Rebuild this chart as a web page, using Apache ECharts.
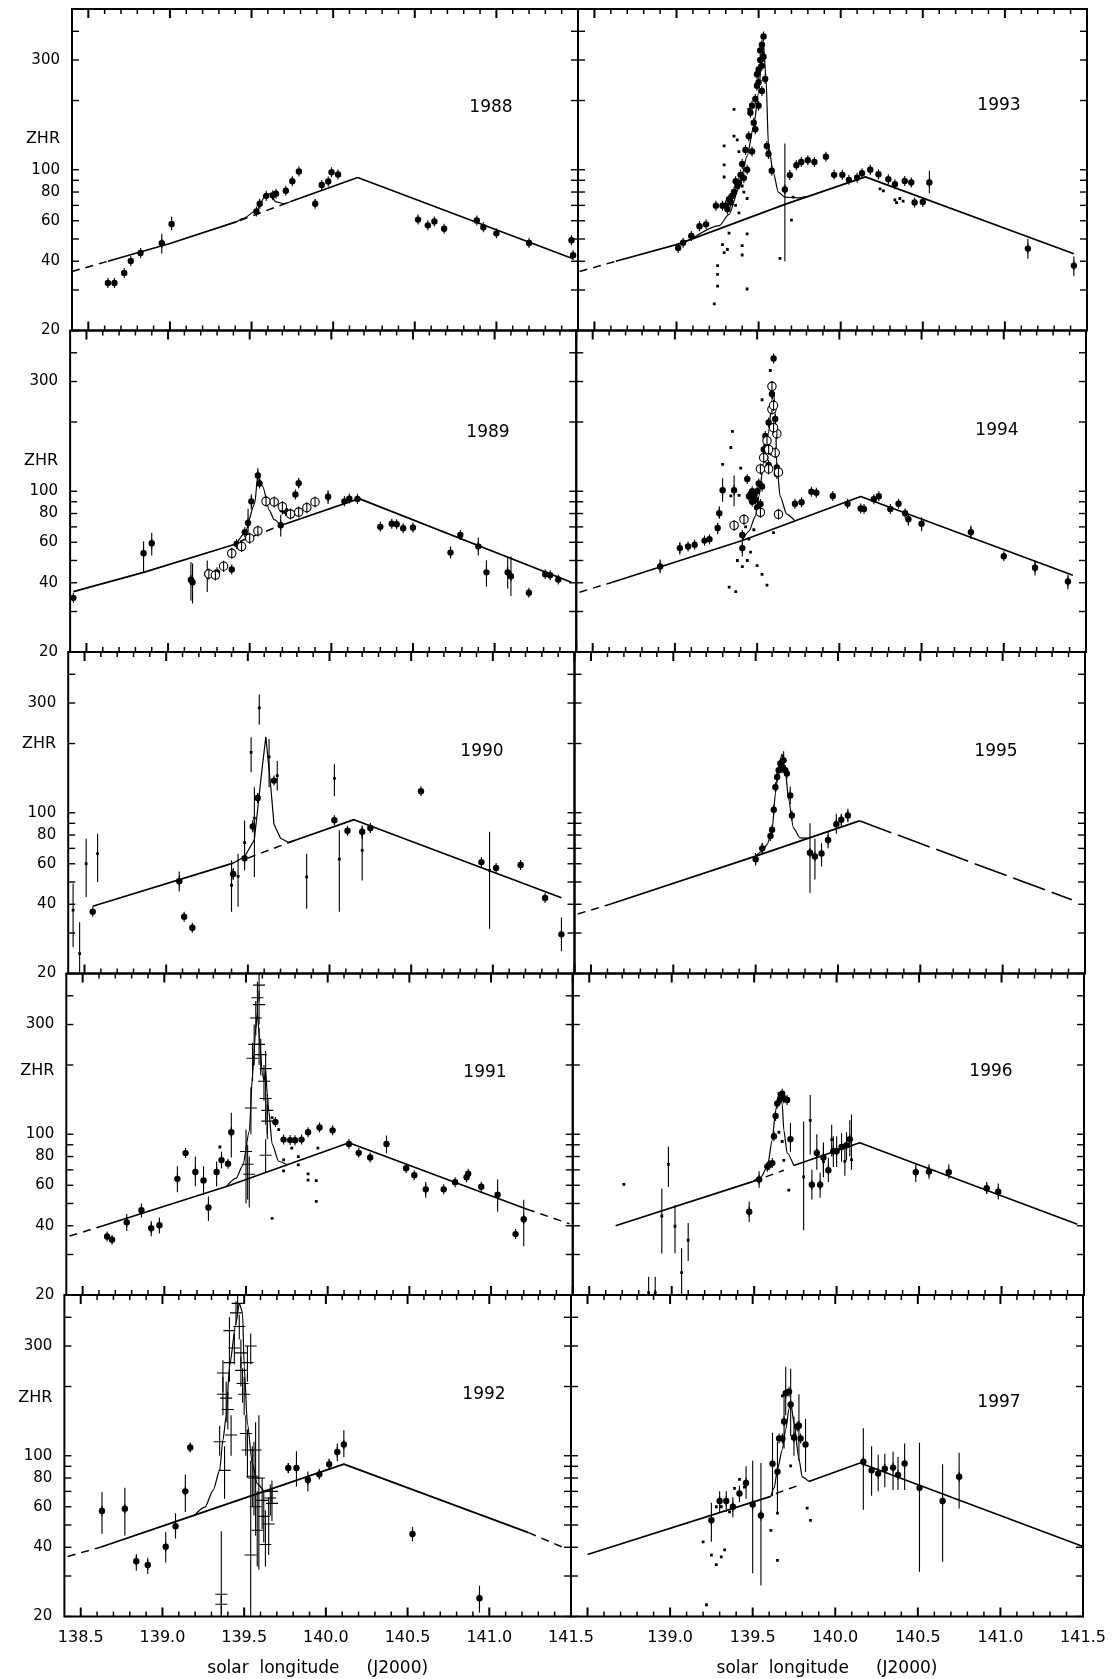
<!DOCTYPE html>
<html><head><meta charset="utf-8">
<script src="https://cdn.jsdelivr.net/npm/echarts@6/dist/echarts.min.js"></script>
<style>html,body{margin:0;padding:0;background:#fff}#c{width:1115px;height:1679px}</style>
</head><body><div id="c"></div><script>
// ---------- axis ticks / labels ----------
const XMIN = 138.4, XMAX = 141.5;
const yTickVals = [20, 30, 40, 50, 60, 70, 80, 90, 100, 200, 300, 400];
const yLabelVals = [20, 40, 60, 80, 100, 300];
const xMajorVals = [138.5, 139.0, 139.5, 140.0, 140.5, 141.0, 141.5];
const xMinorVals = [138.6, 138.7, 138.8, 138.9, 139.1, 139.2, 139.3, 139.4, 139.6, 139.7, 139.8, 139.9,
  140.1, 140.2, 140.3, 140.4, 140.6, 140.7, 140.8, 140.9, 141.1, 141.2, 141.3, 141.4];
const xLabelsLeft = [138.5, 139.0, 139.5, 140.0, 140.5, 141.0, 141.5];
const xLabelsRight = [139.0, 139.5, 140.0, 140.5, 141.0, 141.5];

// ---------- 1988 ----------
const solid1988 = [[[138.62,40],[139.0,47.8],[139.41,59.5]], [[139.74,72.8],[140.15,92.6],[141.47,41]]];
const dash1988 = [[[138.4,36.1],[138.62,40]], [[139.43,60.2],[139.74,72.8]]];
const peak1988 = [[139.41,59.5],[139.45,61.5],[139.53,66.5],[139.58,76],[139.61,78.5],[139.65,72.5],[139.7,71.2],[139.74,72.8]];
const dots1988 = [[138.62,32.2],[138.66,32.2],[138.72,35.6],[138.76,40.1],[138.82,43.5,41.5,45.5],[138.95,47.9,43.1,52.7],[139.01,58.1,54.5,62.4],[139.53,65.9],[139.55,71.2],[139.59,77],[139.63,77.5],[139.65,78.7],[139.71,81],[139.75,89.1],[139.79,98.3],[139.89,71.2,68.5,74],[139.93,85.9],[139.97,89],[139.99,97.6],[140.03,95.3],[140.52,60.7],[140.58,57.3],[140.62,59.6],[140.68,55.4],[140.88,60.2],[140.92,56.3],[141.0,52.9],[141.2,48],[141.46,49.4],[141.47,42.5]];

// ---------- 1989 ----------
const solid1989 = [[[138.42,36.6],[138.85,44.4],[139.42,59.1]], [[139.69,71],[140.17,92.9],[141.47,40.2]]];
const dash1989 = [[[139.44,60.5],[139.69,71]]];
const peak1989 = [[139.42,59.1],[139.47,65.7],[139.53,88.1],[139.55,117],[139.58,104.8],[139.62,82.6],[139.65,75.3],[139.69,71.3]];
const dots1989 = [[138.42,34.4],[138.85,53.8,44.4,60.4],[138.9,59.4,52.5,66],[139.14,41.2,33.4,49.2],[139.15,40.2,32.5,48.5],[139.24,43.7,36.5,50],[139.3,44.4],[139.34,47.1],[139.39,45.7],[139.42,59],[139.47,66.3],[139.49,72.8,62.5,84],[139.51,90.4,83.5,97],[139.55,117,110,126],[139.56,108],[139.69,71.1,63.5,79],[139.7,83.4],[139.72,82],[139.78,96.9],[139.8,108.3,103,114],[139.98,94.7,88,101],[140.08,90.4],[140.11,92.9],[140.16,92.5],[140.3,70],[140.37,72.3],[140.4,71.9],[140.44,69.1],[140.5,69.5,67,72],[140.73,54.1,51,57.5],[140.79,64.5],[140.9,57.6,52.5,63],[140.95,44.4,38.5,50],[141.08,44.4,37.8,52],[141.1,42.7,35,52],[141.21,36.2],[141.31,43.6],[141.34,43.1],[141.39,41.3]];
const open1989 = [[139.25,43.7],[139.29,43.2],[139.34,47.2],[139.39,53.7],[139.45,57.5],[139.5,62.5],[139.55,67.2],[139.6,90.4],[139.65,89.9],[139.7,85.7],[139.75,79.6],[139.8,81.2],[139.85,84.8],[139.9,89.9]];

// ---------- 1990 ----------
const solid1990 = [[[138.55,39.2],[139.41,60.4]], [[139.75,74.2],[140.15,93.3],[141.42,42.7]]];
const dash1990 = [[[139.5,63.5],[139.79,76]]];
const peak1990 = [[139.41,60.4],[139.48,64.4],[139.54,76.5],[139.58,140],[139.61,214],[139.64,130],[139.66,89.2],[139.7,77.5],[139.75,74.2]];
const dots1990 = [[138.55,37.1],[139.08,50.4,45.5,55.5],[139.11,35.3],[139.16,31.6],[139.41,54.2,51,57.5],[139.48,63.4,56.3,92.5],[139.53,87.1,82,93],[139.56,116,110,122],[139.66,138],[140.03,92.7],[140.11,83.5],[140.2,82.7,77,88],[140.25,85.9,82,89],[140.56,124],[140.93,61],[141.02,57.5],[141.17,59.3],[141.32,42.6],[141.42,29.6,25,35]];
const small1990 = [[138.43,37.7,26.1,49.2],[138.47,24.4,20,33.4],[138.51,60,43,77],[138.58,66.4,50,81],[139.4,48.4,37.1,62.2],[139.44,52.9,39,66.3],[139.48,74.2],[139.54,94.7,52.6,129],[139.52,183,150,213],[139.57,286,242,327],[139.63,175,129,209],[139.68,145,125,168],[139.86,52.6,38.2,66.3],[140.03,141,118,163],[140.06,62.8,37.1,83.9],[140.2,68.6,50.7,81],[140.98,56.2,31.3,82.7]];

// ---------- 1991 ----------
const solid1991 = [[[138.62,39.9],[139.38,59.3],[140.13,91.9],[141.22,47.2]]];
const dash1991 = [[[138.42,36.1],[138.62,39.9]], [[141.22,47.2],[141.48,40.8]]];
const peak1991 = [[139.38,59.3],[139.44,64.5],[139.48,73.1],[139.52,103],[139.54,182],[139.56,289],[139.57,340],[139.58,272],[139.6,185],[139.61,170],[139.62,190],[139.63,150],[139.64,125],[139.66,90.6],[139.7,76.3],[139.75,73.7]];
const dots1991 = [[138.65,35.9],[138.68,34.8],[138.77,41.4,38,45],[138.86,46.7,43.5,50],[138.92,39,36,42],[138.97,40.2,37,43.5],[139.08,64,55.9,72.6],[139.13,82.8],[139.19,68.6,59.4,80],[139.24,63,54.6,72.6],[139.27,48,42,53.6],[139.32,68.6,59.4,76.2],[139.35,77.2,71,84],[139.39,74.5],[139.41,102,79.3,124],[139.68,113],[139.73,94.8],[139.77,94.3],[139.8,94.1],[139.84,94.8],[139.88,102],[139.95,107],[140.03,104],[140.13,90.8],[140.19,83],[140.26,79.3],[140.36,90.8,82.6,98.7],[140.48,71.2],[140.53,66.4],[140.6,57.6,53,62],[140.71,57.6],[140.78,61.9],[140.85,65],[140.86,67.3],[140.94,59.1],[141.04,54.6,46,63.5],[141.15,36.8],[141.2,42.7,32.6,51.9]];
const small1991 = [[139.34,88],[139.66,43.1],[139.73,77.3],[139.73,69.3],[139.7,104.7],[139.66,118],[139.78,87],[139.82,80],[139.82,73.6],[139.88,67.3],[139.88,63.2],[139.93,62.8],[139.93,51.1],[139.94,87.1]];
const cross1991 = [[139.5,84.2,50,105],[139.51,74,52,90],[139.52,67,48,80],[139.53,130,100,160],[139.54,214,170,250],[139.55,246,200,300],[139.56,320,270,380],[139.57,392,330,460],[139.58,445,380,500],[139.58,366,300,420],[139.58,246,200,290],[139.59,222,180,260],[139.61,170,140,200],[139.62,193,160,230],[139.62,143,110,170],[139.63,127,100,150],[139.63,114,95,135],[139.62,81,68,95]];

// ---------- 1992 ----------
const solid1992 = [[[138.62,40],[139.08,51.7],[140.11,92],[141.24,46.3]]];
const dash1992 = [[[138.42,36.5],[138.62,40]], [[141.24,46.3],[141.45,40]]];
const peak1992 = [[139.19,54.6],[139.26,59.8],[139.31,70.7],[139.35,86.4],[139.37,117],[139.39,148],[139.41,245],[139.45,378],[139.47,460],[139.49,420],[139.5,245],[139.52,138],[139.55,92.5],[139.58,75.6],[139.63,69.6],[139.66,71]];
const dots1992 = [[138.63,57.5,45.8,69.6],[138.77,58.8,45,72.6],[138.84,34.8,31.6,37.4],[138.91,33.5,30.6,36],[139.02,40.2,34.3,46.6],[139.08,49.4,43.7,56.3],[139.14,70,56.9,82.8],[139.17,108.6,104,113],[139.77,88.5,84,93],[139.82,88.5,73.5,104.6],[139.89,78.4,69.9,85.5],[139.96,83,79,87],[140.02,91.9,87,97],[140.07,103.9,94.6,113],[140.11,111.9,98.8,129],[140.53,45.7,42.5,49],[140.94,24,20.8,27.2]];
const cross1992 = [[139.35,115,100,135],[139.36,25,20,47],[139.36,22.6,20,25],[139.37,185,150,220],[139.37,229,190,260],[139.38,86.4,65,110],[139.39,178,140,210],[139.4,159,130,190],[139.41,254,210,300],[139.41,350,300,400],[139.42,123,100,150],[139.44,294,250,340],[139.45,418,370,470],[139.46,460,420,500],[139.47,365,320,410],[139.48,280,240,320],[139.48,235,200,270],[139.49,206,170,240],[139.5,185,150,220],[139.51,125,100,150],[139.52,254,210,300],[139.52,106,80,130],[139.54,300,250,340],[139.54,37,20,95],[139.55,81.4,60,110],[139.56,80,55,115],[139.57,106,80,140],[139.57,60,45,80],[139.58,47.4,33,70],[139.59,80,32,150],[139.61,64,48,80],[139.62,54.5,42,70],[139.63,41.1,33,58],[139.65,50.5,37,66],[139.66,65.5,55,75],[139.67,62.1,52,72],[139.67,70,62,78]];

// ---------- 1993 ----------
const solid1993 = [[[138.63,40],[139.01,47.5],[139.66,70.7],[140.15,93.1],[141.42,43.1]]];
const dash1993 = [[[138.41,36.1],[138.63,40]]];
const peak1993 = [[139.1,50.5],[139.26,57.1],[139.32,64],[139.38,82.9],[139.43,114.8],[139.47,155],[139.5,216],[139.52,312],[139.53,350],[139.545,250],[139.56,127],[139.59,97],[139.62,80],[139.66,76],[139.74,75.5],[139.79,76.4]];
const dots1993 = [[139.01,45.7],[139.04,48.2],[139.09,51.5],[139.14,56.8],[139.18,57.9],[139.24,69.8],[139.28,69.8],[139.31,67.4],[139.32,74.5],[139.34,77.1],[139.36,89.2],[139.38,87.9],[139.4,106],[139.42,122],[139.44,140],[139.45,177],[139.48,203],[139.49,232],[139.5,273],[139.51,300],[139.52,283],[139.53,380],[139.51,330],[139.54,248],[139.55,127],[139.56,117],[139.58,99],[139.46,190],[139.47,160],[139.49,260],[139.5,240],[139.52,350],[139.53,310],[139.52,220],[139.5,190],[139.48,150],[139.46,120],[139.43,100],[139.41,92],[139.39,95],[139.37,85],[139.35,80],[139.33,72],[139.3,70],[139.66,82,40,130],[139.69,94.8],[139.73,104.6],[139.76,108],[139.8,110],[139.84,108],[139.91,114],[139.96,95],[140.01,95],[140.05,90.4],[140.1,92.3],[140.13,96.5],[140.18,100],[140.23,95.6],[140.29,91],[140.33,86.5],[140.39,89.4],[140.43,88],[140.45,72.1],[140.5,72.4],[140.54,88,79,99],[141.14,45.4,41,50],[141.42,38.3,34.5,42]];
const small1993 = [[139.29,127],[139.29,105],[139.29,93],[139.35,140],[139.37,135],[139.38,120],[139.35,183],[139.28,47.3],[139.29,43.6],[139.31,45],[139.32,53],[139.25,38.3],[139.25,35.1],[139.25,31.2],[139.23,26.1],[139.4,46.8],[139.4,42.6],[139.43,52.6],[139.43,30.3],[139.63,41.2],[139.7,60.4],[139.44,183],[139.47,190],[139.5,330],[139.4,85],[139.41,80],[139.43,75],[139.38,65],[139.36,70],[140.24,82.6],[140.26,81],[140.33,74],[140.34,72],[140.38,73],[140.36,75],[139.71,76]];

// ---------- 1994 ----------
const solid1994 = [[[138.62,40.2],[139.41,61.1],[140.13,94.9],[141.42,43.1]]];
const dash1994 = [[[138.42,36.4],[138.62,40.2]]];
const peak1994 = [[139.41,61.1],[139.45,67],[139.49,78],[139.51,95],[139.54,133],[139.57,180],[139.59,250],[139.6,270],[139.61,220],[139.62,129],[139.64,95],[139.68,79.5],[139.73,74.3]];
const dots1994 = [[138.91,47.1,44,50.5],[139.03,56.6,53,60],[139.08,57.5],[139.12,58.6],[139.18,61],[139.21,61.9],[139.26,69.2,65,73],[139.27,80.3,76,86],[139.29,101,90,114],[139.36,101,86,117],[139.41,64.5],[139.41,56.6,52,61],[139.44,113],[139.46,97.4],[139.48,95],[139.5,100],[139.51,108],[139.53,125],[139.54,152],[139.55,174],[139.57,199],[139.59,265],[139.6,378],[139.61,206],[139.62,127],[139.62,119],[139.45,95],[139.47,90],[139.49,92],[139.47,100],[139.5,85],[139.52,88],[139.53,105],[139.55,140],[139.56,160],[139.58,150],[139.57,130],[139.73,88.2],[139.77,89.6],[139.83,99.6],[139.86,98.6],[139.96,95.3],[140.05,88.2],[140.13,84.2],[140.15,83.8],[140.21,92.4],[140.24,95.1],[140.31,83.8],[140.36,88.2],[140.4,80.3],[140.42,75.5,71,80],[140.5,72.2,67,77],[140.8,66.4,62,71],[141.0,52.2],[141.19,46.5,43,50],[141.39,40.5,37.5,43.5]];
const open1994 = [[139.36,71],[139.42,75.4],[139.52,81],[139.63,79.4],[139.52,125],[139.57,125],[139.56,166],[139.61,147],[139.62,178],[139.6,189],[139.59,227],[139.6,236],[139.59,286],[139.63,121],[139.54,140],[139.57,152]];
const small1994 = [[139.35,182],[139.34,155],[139.29,131],[139.4,126],[139.58,335],[139.53,250],[139.38,50],[139.41,47],[139.44,50],[139.46,54.4],[139.5,47.5],[139.53,43.5],[139.56,39.1],[139.33,38.3],[139.37,36.6],[139.6,66.1],[139.34,95.5],[139.39,96],[139.43,70],[139.45,62],[139.48,68]];

// ---------- 1995 ----------
const solid1995 = [[[138.62,40.1],[139.5,64.8],[140.13,92.2]]];
const dash1995 = [[[138.42,36.3],[138.62,40.1]]];
const longDash1995 = [[[140.13,92.2],[141.42,41.9]]];
const peak1995 = [[139.5,64.8],[139.54,68],[139.57,72.8],[139.6,84.2],[139.62,121],[139.64,158],[139.66,180],[139.68,153],[139.7,114],[139.73,85.7],[139.77,77.8],[139.82,77.5]];
const dots1995 = [[139.5,62.8,59,67],[139.54,70,66,74],[139.59,79.3],[139.6,84.4],[139.61,103],[139.62,129],[139.63,143],[139.64,153],[139.65,164],[139.66,156],[139.67,169,155,185],[139.68,153],[139.69,148],[139.71,119,109,130],[139.72,97.4],[139.83,67,44.8,90],[139.86,64.5,51.2,77.1],[139.9,66.5,58.4,73.7],[139.94,76.2,70,83],[139.99,89.2,81,98.9],[140.02,93.2,87,99],[140.06,97.4,91,104]];

// ---------- 1996 ----------
const solid1996 = [[[138.66,40],[139.49,62.2]], [[139.74,73.1],[140.14,91.9],[141.46,40.6]]];
const dash1996 = [[[139.49,62.2],[139.68,69.7]]];
const peak1996 = [[139.49,62.2],[139.54,65],[139.58,72.3],[139.61,94.7],[139.63,127],[139.65,150],[139.67,136],[139.68,104],[139.7,82.9],[139.74,73.1]];
const dots1996 = [[139.47,46,41.5,51],[139.53,63.6,58.5,69],[139.58,72.3],[139.59,73.5],[139.61,74.9],[139.62,98],[139.63,120],[139.64,136],[139.66,143],[139.67,150],[139.68,143],[139.7,141],[139.72,95.2,84,112],[139.85,60.3,52,70],[139.88,82.9,70,100],[139.9,60.3,53,68],[139.92,79.2,68,92],[139.95,69.7,62,79],[139.98,84.3,72,98],[140.0,84.3,72,98],[140.03,88,76,101],[140.06,89.6,77,102],[140.08,95.1,80,115],[140.48,68.4,62,75],[140.56,68.8,64,74],[140.68,68.4,64,74],[140.91,58.3,55,62],[140.98,56.3,52,61]];
const small1996 = [[138.71,60.5],[138.94,44.1,30.3,58.1],[138.98,74,59,88.5],[139.02,39.8,30.3,49.2],[139.06,25,20,31.9],[139.1,34.6,28.1,41.1],[138.86,20.5,20,24],[138.9,20.5,20,24],[139.65,150],[139.65,102],[139.67,93],[139.68,77],[139.71,57.2],[139.84,115,81.7,148],[139.8,65.2,38.2,113.6],[139.97,94.7,80,110],[140.05,76.2,66,88],[140.09,77.6,70,122],[139.92,76,65,88]];

// ---------- 1997 ----------
const solid1997 = [[[138.5,37.2],[139.61,66.6]], [[139.84,77.3],[140.15,93],[141.5,40.3]]];
const dash1997 = [[[139.64,68.5],[139.8,75.3]]];
const peak1997 = [[139.61,66.6],[139.63,72.5],[139.65,87.2],[139.68,107],[139.7,130],[139.72,160],[139.73,171],[139.75,139],[139.78,96.9],[139.8,81],[139.84,77.3]];
const dots1997 = [[139.25,52.4,42.3,62.4],[139.3,63.6,57,70],[139.34,63.6,57,70],[139.38,60,54,66],[139.42,68.5,63,74],[139.46,76.1,65,90],[139.5,61.4,30.8,95.1],[139.55,55,27.3,93.1],[139.62,92.4,66.7,126],[139.65,85.3,57,115],[139.66,119],[139.68,119],[139.69,141,107.5,190],[139.7,187,150,244],[139.72,190],[139.73,167,122,239],[139.75,120,100,148],[139.77,134],[139.78,135,95,185],[139.79,119],[139.82,112,85,145],[140.17,94.3,58.2,131.6],[140.22,86.4,67,110],[140.26,83.8,70,101],[140.3,87.9,73,102],[140.35,88.8,71,104],[140.38,82.6,71,99],[140.42,92.5,71,113],[140.51,72.5,31.3,114],[140.65,63.6,34.6,91.9],[140.75,81,59,103]];
const small1997 = [[139.2,42.2],[139.25,37],[139.28,33.6],[139.31,36.3],[139.33,39],[139.22,22.5],[139.39,72.1],[139.42,78.9],[139.45,73],[139.61,47.4],[139.65,35.1],[139.65,56.3],[139.83,59.2],[139.85,52.4],[139.73,90.4],[139.68,182],[139.28,60],[139.31,60],[139.36,57]];

// ---------- panel layout ----------
const panels = [
  {year:'1988', col:0, row:0, solid:solid1988, dash:dash1988, peak:peak1988, dots:dots1988, zhr:136, lab:[491,108]},
  {year:'1989', col:0, row:1, solid:solid1989, dash:dash1989, peak:peak1989, dots:dots1989, open:open1989, zhr:136, lab:[488,433]},
  {year:'1990', col:0, row:2, solid:solid1990, dash:dash1990, peak:peak1990, dots:dots1990, small:small1990, zhr:199, lab:[482,752], sharp:true},
  {year:'1991', col:0, row:3, solid:solid1991, dash:dash1991, peak:peak1991, dots:dots1991, small:small1991, cross:cross1991, zhr:188, lab:[485,1073]},
  {year:'1992', col:0, row:4, solid:solid1992, dash:dash1992, peak:peak1992, dots:dots1992, cross:cross1992, zhr:179, lab:[484,1395]},
  {year:'1993', col:1, row:0, solid:solid1993, dash:dash1993, peak:peak1993, dots:dots1993, small:small1993, lab:[999,106]},
  {year:'1994', col:1, row:1, solid:solid1994, dash:dash1994, peak:peak1994, dots:dots1994, open:open1994, small:small1994, lab:[997,431]},
  {year:'1995', col:1, row:2, solid:solid1995, dash:dash1995, longDash:longDash1995, peak:peak1995, dots:dots1995, lab:[996,752]},
  {year:'1996', col:1, row:3, solid:solid1996, dash:dash1996, peak:peak1996, dots:dots1996, small:small1996, lab:[991,1072]},
  {year:'1997', col:1, row:4, solid:solid1997, dash:dash1997, peak:peak1997, dots:dots1997, small:small1997, lab:[999,1403]}
];

const ROW_TOP = 9, ROW_H = 321.5;
const YMIN = 20, YMAX = 500;
function gridRect(col, row) {
  const L = 72 - 1.9 * row, M = 578 - 1.75 * row, R = 1087 - 1 * row;
  return col === 0 ? {left: L, width: M - L} : {left: M, width: R - M};
}
const FONT = '"DejaVu Sans", "Liberation Sans", Arial, sans-serif';

function norm(d) { return [d[0], d[1], d[2] || 0, d[3] || 0]; }

function renderPts(kind) {
  return function (params, api) {
    const x = api.value(0), y = api.value(1), lo = api.value(2), hi = api.value(3);
    const p = api.coord([x, y]);
    const st = {stroke: '#000', lineWidth: 1.1};
    const ch = [];
    if (lo > 0 && hi > 0) {
      const a = api.coord([x, lo]), b = api.coord([x, hi]);
      ch.push({type: 'line', shape: {x1: p[0], y1: a[1], x2: p[0], y2: b[1]}, style: st});
    }
    if (kind === 'dot') {
      ch.push({type: 'line', shape: {x1: p[0], y1: p[1] - 5, x2: p[0], y2: p[1] + 5}, style: st});
      ch.push({type: 'circle', shape: {cx: p[0], cy: p[1], r: 3.2}, style: {fill: '#000'}});
    } else if (kind === 'open') {
      ch.push({type: 'circle', shape: {cx: p[0], cy: p[1], r: 4.2}, style: {fill: '#fff', stroke: '#000', lineWidth: 1.1}});
      ch.push({type: 'line', shape: {x1: p[0], y1: p[1] - 5.5, x2: p[0], y2: p[1] + 5.5}, style: st});
    } else if (kind === 'small') {
      ch.push({type: 'rect', shape: {x: p[0] - 1.4, y: p[1] - 1.4, width: 2.8, height: 2.8}, style: {fill: '#000'}});
    } else if (kind === 'cross') {
      ch.push({type: 'line', shape: {x1: p[0] - 6, y1: p[1], x2: p[0] + 6, y2: p[1]}, style: st});
    }
    return {type: 'group', children: ch};
  };
}

// y ticks on the left & right borders
function renderFrame(params, api) {
  const ch = [];
  yTickVals.forEach(v => {
    const a = api.coord([XMIN, v]), b = api.coord([XMAX, v]);
    const st = {stroke: '#000', lineWidth: 1.4};
    ch.push({type: 'line', shape: {x1: a[0], y1: a[1], x2: a[0] + 7, y2: a[1]}, style: st});
    ch.push({type: 'line', shape: {x1: b[0] - 7, y1: b[1], x2: b[0], y2: b[1]}, style: st});
  });
  return {type: 'group', children: ch};
}
function renderYLabels(params, api) {
  const v = api.value(1);
  const a = api.coord([XMIN, v]);
  return {type: 'text', x: a[0] - 12, y: a[1],
    style: {text: String(v), fill: '#000', font: '15px ' + FONT, align: 'right', verticalAlign: 'middle'}};
}
function renderZHR(params, api) {
  const a = api.coord([XMIN, api.value(1)]);
  return {type: 'text', x: a[0] - 12, y: a[1],
    style: {text: 'ZHR', fill: '#000', font: '16px ' + FONT, align: 'right', verticalAlign: 'middle'}};
}

// x tick marks as short broken polylines on the top and bottom borders (tick length given in pixels)
function xTickSegments(vals, lenPx) {
  const f = Math.pow(YMAX / YMIN, lenPx / ROW_H);
  const out = [];
  vals.forEach(v => {
    out.push([v, YMIN], [v, YMIN * f], '-');
    out.push([v, YMAX], [v, YMAX / f], '-');
  });
  return out;
}
const majorTickLine = xTickSegments(xMajorVals, 9);
const minorTickLine = xTickSegments(xMinorVals, 5);

const grids = [], xAxes = [], yAxes = [], series = [], graphics = [];
panels.forEach((p, gi) => {
  const r = gridRect(p.col, p.row);
  grids.push({left: r.left, top: ROW_TOP + ROW_H * p.row, width: r.width, height: ROW_H,
    show: true, borderColor: '#000', borderWidth: 2, backgroundColor: 'transparent', outerBoundsMode: 'none'});
  const bottom = p.row === 4;
  const labels = bottom ? (p.col === 0 ? xLabelsLeft : xLabelsRight) : null;
  const xi = xAxes.length;
  xAxes.push({type: 'value', gridIndex: gi, min: XMIN, max: XMAX, position: 'bottom',
    splitLine: {show: false}, axisLine: {show: false, onZero: false}, axisTick: {show: false},
    axisLabel: labels ? {show: true, customValues: labels, formatter: v => Number(v).toFixed(1), margin: 13,
      color: '#000', fontSize: 16, fontFamily: FONT} : {show: false},
    name: bottom ? 'solar  longitude     (J2000)' : '', nameLocation: 'middle', nameGap: 44,
    nameTextStyle: {color: '#000', fontSize: 17, fontFamily: FONT}});
  yAxes.push({type: 'log', logBase: 10, gridIndex: gi, min: YMIN, max: YMAX,
    axisLine: {show: false}, axisTick: {show: false}, axisLabel: {show: false}, splitLine: {show: false}});
  const yi = gi;
  const lineS = (data, w, type) => ({type: 'line', xAxisIndex: xi, yAxisIndex: yi, data: data,
    showSymbol: false, symbol: 'none', silent: true, z: 3, clip: true,
    lineStyle: {color: '#000', width: w, type: type}});
  (p.solid || []).forEach(s => series.push(lineS(s, 1.7, 'solid')));
  (p.dash || []).forEach(s => series.push(lineS(s, 1.5, [8, 6])));
  (p.longDash || []).forEach(s => series.push(lineS(s, 1.6, [34, 7])));
  if (p.peak) series.push(Object.assign(lineS(p.peak, 1.2, 'solid'), p.sharp ? {} : {smooth: 0.25, smoothMonotone: 'x'}));
  // frame x ticks
  series.push(Object.assign(lineS(majorTickLine, 2, 'solid'), {connectNulls: false, clip: false, z: 9}));
  series.push(Object.assign(lineS(minorTickLine, 1.5, 'solid'), {connectNulls: false, clip: false, z: 9}));
  const ptS = (arr, kind, z) => ({type: 'custom', xAxisIndex: xi, yAxisIndex: yi, data: arr.map(norm),
    dimensions: ['x', 'y', 'lo', 'hi'], encode: {x: 0, y: 1}, renderItem: renderPts(kind), clip: true, silent: true, z: z});
  if (p.cross) series.push(ptS(p.cross, 'cross', 4));
  if (p.small) series.push(ptS(p.small, 'small', 5));
  if (p.dots) series.push(ptS(p.dots, 'dot', 6));
  if (p.open) series.push(ptS(p.open, 'open', 7));
  series.push({type: 'custom', xAxisIndex: xi, yAxisIndex: yi, data: [[140.0, 100]],
    encode: {x: 0, y: 1}, renderItem: renderFrame, clip: false, silent: true, z: 9});
  if (p.col === 0) {
    series.push({type: 'custom', xAxisIndex: xi, yAxisIndex: yi, data: yLabelVals.map(v => [XMIN, v]),
      renderItem: renderYLabels, clip: false, silent: true, z: 8});
    series.push({type: 'custom', xAxisIndex: xi, yAxisIndex: yi, data: [[XMIN, p.zhr]],
      renderItem: renderZHR, clip: false, silent: true, z: 8});
  }
  graphics.push({type: 'text', x: p.lab[0], y: p.lab[1], z: 10,
    style: {text: p.year, fill: '#000', font: '17px ' + FONT, align: 'center', verticalAlign: 'middle'}});
});

const chart = echarts.init(document.getElementById('c'), null, {renderer: 'canvas'});
chart.setOption({
  animation: false,
  backgroundColor: '#fff',
  grid: grids, xAxis: xAxes, yAxis: yAxes, series: series, graphic: graphics,
  tooltip: {show: false}
});
</script></body></html>
